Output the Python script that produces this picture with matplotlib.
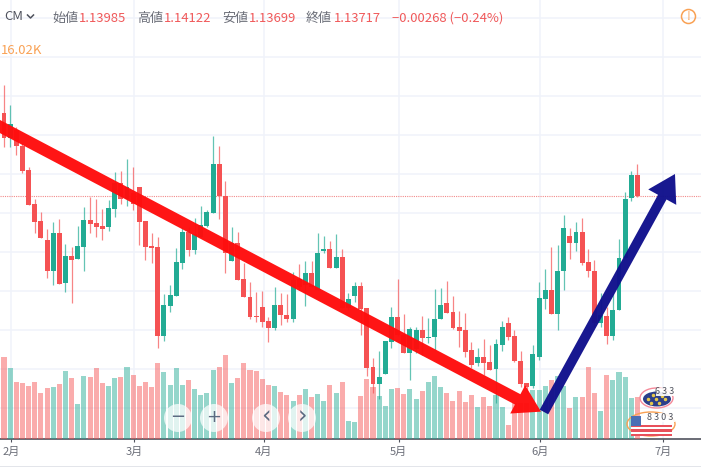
import numpy as np
import matplotlib
matplotlib.use('Agg')
import matplotlib.pyplot as plt
from matplotlib.patches import Circle, Ellipse, Rectangle
from matplotlib.transforms import Affine2D
from matplotlib.lines import Line2D

plt.rcParams['font.family'] = ['Noto Sans CJK JP', 'DejaVu Sans']

# daily candles
opens = [1.14500, 1.14782, 1.14462, 1.14564, 1.14359, 1.14051, 1.13615, 1.13397, 1.13154, 1.12756,
         1.13244, 1.12603, 1.12949, 1.12910, 1.13064, 1.13410, 1.13372, 1.13333, 1.13321, 1.13551,
         1.13885, 1.13679, 1.13756, 1.13833, 1.13397, 1.13077, 1.13064, 1.11923, 1.12308, 1.12436,
         1.12859, 1.13256, 1.13026, 1.13192, 1.13333, 1.13500, 1.14128, 1.13718, 1.12885, 1.13115,
         1.12654, 1.12423, 1.12179, 1.12295, 1.12115, 1.12026, 1.12321, 1.12192, 1.12141, 1.12654,
         1.12577, 1.12731, 1.12513, 1.13013, 1.13038, 1.12795, 1.12936, 1.12282, 1.12436, 1.12564,
         1.12282, 1.11526, 1.11308, 1.11436, 1.11846, 1.12167, 1.11936, 1.11705, 1.11756, 1.12000,
         1.11897, 1.11910, 1.12141, 1.12346, 1.12231, 1.12038, 1.12000, 1.11744, 1.11577, 1.11654,
         1.11590, 1.11500, 1.11808, 1.12090, 1.11923, 1.11603, 1.11321, 1.11282, 1.11654, 1.12397,
         1.12513, 1.12205, 1.12756, 1.13205, 1.13115, 1.13256, 1.12872, 1.12756, 1.12090, 1.12179,
         1.11923, 1.12256, 1.12923, 1.13692, 1.13985]
closes = [1.14782, 1.14462, 1.14641, 1.14359, 1.14038, 1.13603, 1.13385, 1.13179, 1.12756, 1.13244,
          1.12590, 1.12949, 1.12897, 1.13077, 1.13410, 1.13359, 1.13321, 1.13295, 1.13564, 1.13885,
          1.13679, 1.13833, 1.13615, 1.13385, 1.13064, 1.13051, 1.11923, 1.12321, 1.12449, 1.12872,
          1.13256, 1.13026, 1.13231, 1.13346, 1.13513, 1.14128, 1.13718, 1.12987, 1.13115, 1.12641,
          1.12423, 1.12167, 1.12167, 1.12103, 1.12026, 1.12321, 1.12192, 1.12141, 1.12641, 1.12551,
          1.12731, 1.12551, 1.12987, 1.13038, 1.12795, 1.12936, 1.12282, 1.12397, 1.12564, 1.12269,
          1.11513, 1.11308, 1.11397, 1.11859, 1.12167, 1.11936, 1.11705, 1.12013, 1.12000, 1.11897,
          1.11910, 1.12141, 1.12321, 1.12218, 1.12026, 1.11987, 1.11718, 1.11551, 1.11654, 1.11577,
          1.11487, 1.11821, 1.12038, 1.11910, 1.11603, 1.11308, 1.11269, 1.11692, 1.12410, 1.12513,
          1.12205, 1.12756, 1.13308, 1.13115, 1.13256, 1.12859, 1.12756, 1.12090, 1.12192, 1.11923,
          1.12256, 1.12923, 1.13679, 1.13987, 1.13717]
highs = [1.14782, 1.15141, 1.14885, 1.14603, 1.14397, 1.14090, 1.13679, 1.13513, 1.13295, 1.13385,
         1.13423, 1.13103, 1.13064, 1.13333, 1.13577, 1.13705, 1.13679, 1.13551, 1.13667, 1.14026,
         1.14038, 1.14192, 1.14090, 1.13833, 1.13397, 1.13244, 1.13192, 1.12462, 1.12577, 1.13051,
         1.13321, 1.13321, 1.13436, 1.13590, 1.13538, 1.14487, 1.14359, 1.13910, 1.13321, 1.13256,
         1.12859, 1.12615, 1.12487, 1.12500, 1.12167, 1.12551, 1.12474, 1.12462, 1.12744, 1.12846,
         1.12885, 1.12885, 1.13244, 1.13205, 1.13141, 1.13231, 1.13038, 1.12474, 1.12615, 1.12615,
         1.12282, 1.11641, 1.11731, 1.11859, 1.12295, 1.12654, 1.12205, 1.12038, 1.12038, 1.12179,
         1.12154, 1.12526, 1.12538, 1.12628, 1.12436, 1.12244, 1.12218, 1.11846, 1.11769, 1.11885,
         1.11808, 1.11885, 1.12115, 1.12167, 1.12000, 1.11731, 1.11321, 1.11808, 1.12615, 1.12782,
         1.13064, 1.13090, 1.13474, 1.13308, 1.13385, 1.13436, 1.13038, 1.12897, 1.12474, 1.12295,
         1.12474, 1.13167, 1.13769, 1.14038, 1.14122]
lows = [1.14295, 1.14346, 1.14346, 1.14244, 1.14013, 1.13603, 1.13244, 1.13179, 1.12667, 1.12577,
        1.12590, 1.12487, 1.12346, 1.12910, 1.12756, 1.13244, 1.13192, 1.13154, 1.13269, 1.13449,
        1.13615, 1.13590, 1.13538, 1.13090, 1.12897, 1.12859, 1.11769, 1.11859, 1.12231, 1.12436,
        1.12782, 1.12949, 1.12974, 1.13192, 1.13321, 1.13500, 1.13423, 1.12731, 1.12885, 1.12641,
        1.12423, 1.12141, 1.12103, 1.12038, 1.11846, 1.12000, 1.12064, 1.12103, 1.12103, 1.12513,
        1.12308, 1.12551, 1.12513, 1.12987, 1.12795, 1.12795, 1.12282, 1.12256, 1.12359, 1.11936,
        1.11410, 1.11192, 1.11115, 1.11436, 1.11769, 1.11923, 1.11705, 1.11359, 1.11705, 1.11679,
        1.11833, 1.11744, 1.12141, 1.12218, 1.12013, 1.11782, 1.11654, 1.11513, 1.11538, 1.11423,
        1.11487, 1.11064, 1.11731, 1.11872, 1.11590, 1.11269, 1.11205, 1.11256, 1.11615, 1.12269,
        1.12205, 1.12000, 1.12513, 1.12910, 1.13013, 1.12833, 1.12679, 1.12038, 1.12038, 1.11821,
        1.11872, 1.12256, 1.12923, 1.13654, 1.13699]
# volume in K
volumes = [31.8, 31.5, 27.2, 21.8, 21.4, 20.3, 21.8, 17.6, 19.5, 19.9,
           21.0, 26.1, 23.4, 13.3, 24.1, 23.7, 27.2, 21.4, 20.3, 23.4,
           23.7, 27.6, 24.5, 20.3, 21.8, 19.9, 29.1, 25.7, 20.7, 27.2,
           20.7, 22.6, 19.1, 16.8, 17.6, 26.4, 27.6, 32.2, 21.4, 23.4,
           29.1, 26.4, 26.1, 23.0, 20.7, 20.3, 17.9, 16.8, 14.5, 16.8,
           19.1, 16.0, 17.2, 14.5, 20.7, 17.6, 21.8, 6.8, 6.4, 16.4,
           23.0, 19.9, 16.4, 12.5, 19.1, 19.5, 17.2, 19.1, 15.2, 18.3,
           21.8, 24.1, 19.9, 17.6, 14.5, 18.3, 14.1, 16.8, 12.2, 16.0,
           12.5, 16.8, 12.2, 5.2, 13.7, 13.7, 13.7, 18.7, 18.7, 20.3,
           22.6, 24.1, 20.3, 11.8, 16.0, 16.0, 27.6, 17.6, 10.6, 24.5,
           22.6, 25.7, 23.7, 15.6, 16.02]

month_pos = [2.2, 22.2, 43.2, 65.2, 88.2, 108.2]
month_labels = ['2月', '3月', '4月', '5月', '6月', '7月']
grid_prices = [1.16, 1.155, 1.15, 1.145, 1.14, 1.135, 1.13, 1.125, 1.12, 1.115, 1.11]
last_close = 1.13717

# hand drawn arrows: (candle index, price)
red_arrow = [(-1.28, 1.14676), (88.32, 1.10953)]
blue_arrow = [(88.8, 1.10949), (110.1, 1.14000)]

UP = '#22ab94'
DOWN = '#f55253'
GRID = '#f0f3fa'
TEXT = '#50535e'
LABEL = '#6b6e78'
ORANGE = '#f9a154'

fig = plt.figure(figsize=(7.01, 4.67), dpi=100)
# everything that is not data is placed in picture pixels, y down
px = Affine2D().scale(1 / 701, -1 / 467).translate(0, 1) + fig.transFigure

ax = fig.add_axes([0, 28.5 / 467, 1, 438.5 / 467])
ax_v = ax.twinx()
ax_c = ax.twinx()
ax_v.set_zorder(1)
ax_c.set_zorder(2)

x = np.arange(len(opens))
opens = np.array(opens)
closes = np.array(closes)
is_up = closes >= opens
candle_col = [UP if u else DOWN for u in is_up]

# grid
ax.hlines(grid_prices, -5, 120, color=GRID, lw=1.1, zorder=1)
ax.vlines(month_pos, 1.0, 1.2, color=GRID, lw=1.1, zorder=1)

# volume
ax_v.bar(x, volumes, width=0.82, color=candle_col, alpha=0.48, linewidth=0)

# candles
ax_c.axhline(last_close, color='#f28a8a', lw=0.8, ls=(0, (1, 1)), zorder=1)
ax_c.vlines(x, lows, highs, color=candle_col, lw=0.9, alpha=0.7, zorder=2)
body_low = np.minimum(opens, closes)
body_h = np.maximum(np.abs(closes - opens), 0.00013)
ax_c.bar(x, body_h, bottom=body_low, width=0.8, color=candle_col, linewidth=0, zorder=3)

for a in (ax, ax_v, ax_c):
    a.set_xlim(0.35, 114.33)
    a.set_yticks([])
    for s in a.spines.values():
        s.set_visible(False)
ax.set_ylim(1.10609, 1.16231)
ax_c.set_ylim(1.10609, 1.16231)
ax_v.set_ylim(0, 169.3)

ax.spines['bottom'].set_visible(True)
ax.spines['bottom'].set_color(TEXT)
ax.spines['bottom'].set_linewidth(1.2)
ax.set_xticks(month_pos)
ax.set_xticklabels(month_labels, fontsize=8, color=LABEL)
ax.tick_params(axis='x', length=2.2, width=0.8, color=TEXT, pad=4)
for a in (ax_v, ax_c):
    a.tick_params(axis='x', bottom=False, labelbottom=False)

# arrows
ax_c.annotate('', xy=red_arrow[1], xytext=red_arrow[0], annotation_clip=False, zorder=6,
              arrowprops=dict(arrowstyle='simple,head_length=19,head_width=23,tail_width=8.4',
                              mutation_scale=1, color='#ff0d0d', alpha=0.97, lw=0,
                              shrinkA=0, shrinkB=0))
ax_c.annotate('', xy=blue_arrow[1], xytext=blue_arrow[0], annotation_clip=False, zorder=6,
              arrowprops=dict(arrowstyle='simple,head_length=19,head_width=23,tail_width=7',
                              mutation_scale=1, color='#10108c', alpha=0.97, lw=0,
                              shrinkA=0, shrinkB=0))

# header
def head(x0, y0, s, col, size=9.4, ha='left'):
    fig.text(x0, y0, s, transform=px, color=col, fontsize=size, ha=ha, va='center', zorder=7)

head(23, 17, 'CM', TEXT, ha='right')
fig.add_artist(Line2D([27.5, 30.5, 33.5], [15, 18, 15], transform=px, color=TEXT, lw=1.1, zorder=7))
for lx, vx, lab, val in [(52, 79, '始値', '1.13985'), (137, 164, '高値', '1.14122'),
                         (222, 249, '安値', '1.13699'), (306, 334, '終値', '1.13717')]:
    head(lx, 18.5, lab, LABEL)
    head(vx, 18.5, val, '#f0595a')
head(392, 18.5, '−0.00268 (−0.24%)', '#f0595a')
head(1, 50, '16.02K', ORANGE)

# warning icon
fig.add_artist(Circle((688.5, 16.5), 7, transform=px, fill=False, ec=ORANGE, lw=1.1, zorder=7))
head(688.5, 16.5, '!', ORANGE, size=8.5, ha='center')

# zoom and scroll buttons
for bx, s in zip([178, 214, 266, 302], ['−', '+', '‹', '›']):
    fig.add_artist(Circle((bx, 418), 14, transform=px, fc='white', ec='none', alpha=0.72, zorder=5))
    fig.text(bx, 417, s, transform=px, color='#5d6b82', ha='center', va='center',
             fontsize=17 if s in '‹›' else 13, family='DejaVu Sans', zorder=7)

# event badges
fig.add_artist(Ellipse((656.5, 398), 33, 20, transform=px, fill=False, ec='#f58a9a', lw=1, zorder=5))
fig.add_artist(Ellipse((657, 399), 28, 15, transform=px, fc='#2c3f8a', ec='none', zorder=5))
fig.add_artist(Line2D([648, 653, 659, 665, 651, 656, 662], [399, 395, 403, 399, 403, 399, 396],
                      transform=px, ls='none', marker='o', ms=1.5, color='#e6c84a', zorder=5))
fig.add_artist(Rectangle((656, 388), 19, 8, transform=px, fc='white', ec='none', alpha=0.9, zorder=6))
head(665, 392, '6 3 3', TEXT, size=6.5, ha='center')

fig.add_artist(Ellipse((651, 424), 48, 24, transform=px, fill=False, ec=ORANGE, lw=1, zorder=5))
for i, c in enumerate(['#e8505b', 'white', '#e8505b', 'white', '#e8505b']):
    fig.add_artist(Rectangle((631, 425 + i * 2.2), 41, 2.2, transform=px, fc=c, ec='none', zorder=5))
fig.add_artist(Rectangle((631, 416), 10, 10, transform=px, fc='#4a6fb5', ec='none', zorder=5))
fig.add_artist(Rectangle((645, 413), 30, 9, transform=px, fc='white', ec='none', alpha=0.9, zorder=6))
head(660, 417.5, '8 3 0 3', TEXT, size=6.5, ha='center')

# strip along the bottom edge
fig.add_artist(Rectangle((0, 465.5), 701, 1.5, transform=px, fc='#e3e5ea', ec='none', zorder=5))

plt.savefig('out.png', dpi=100)
